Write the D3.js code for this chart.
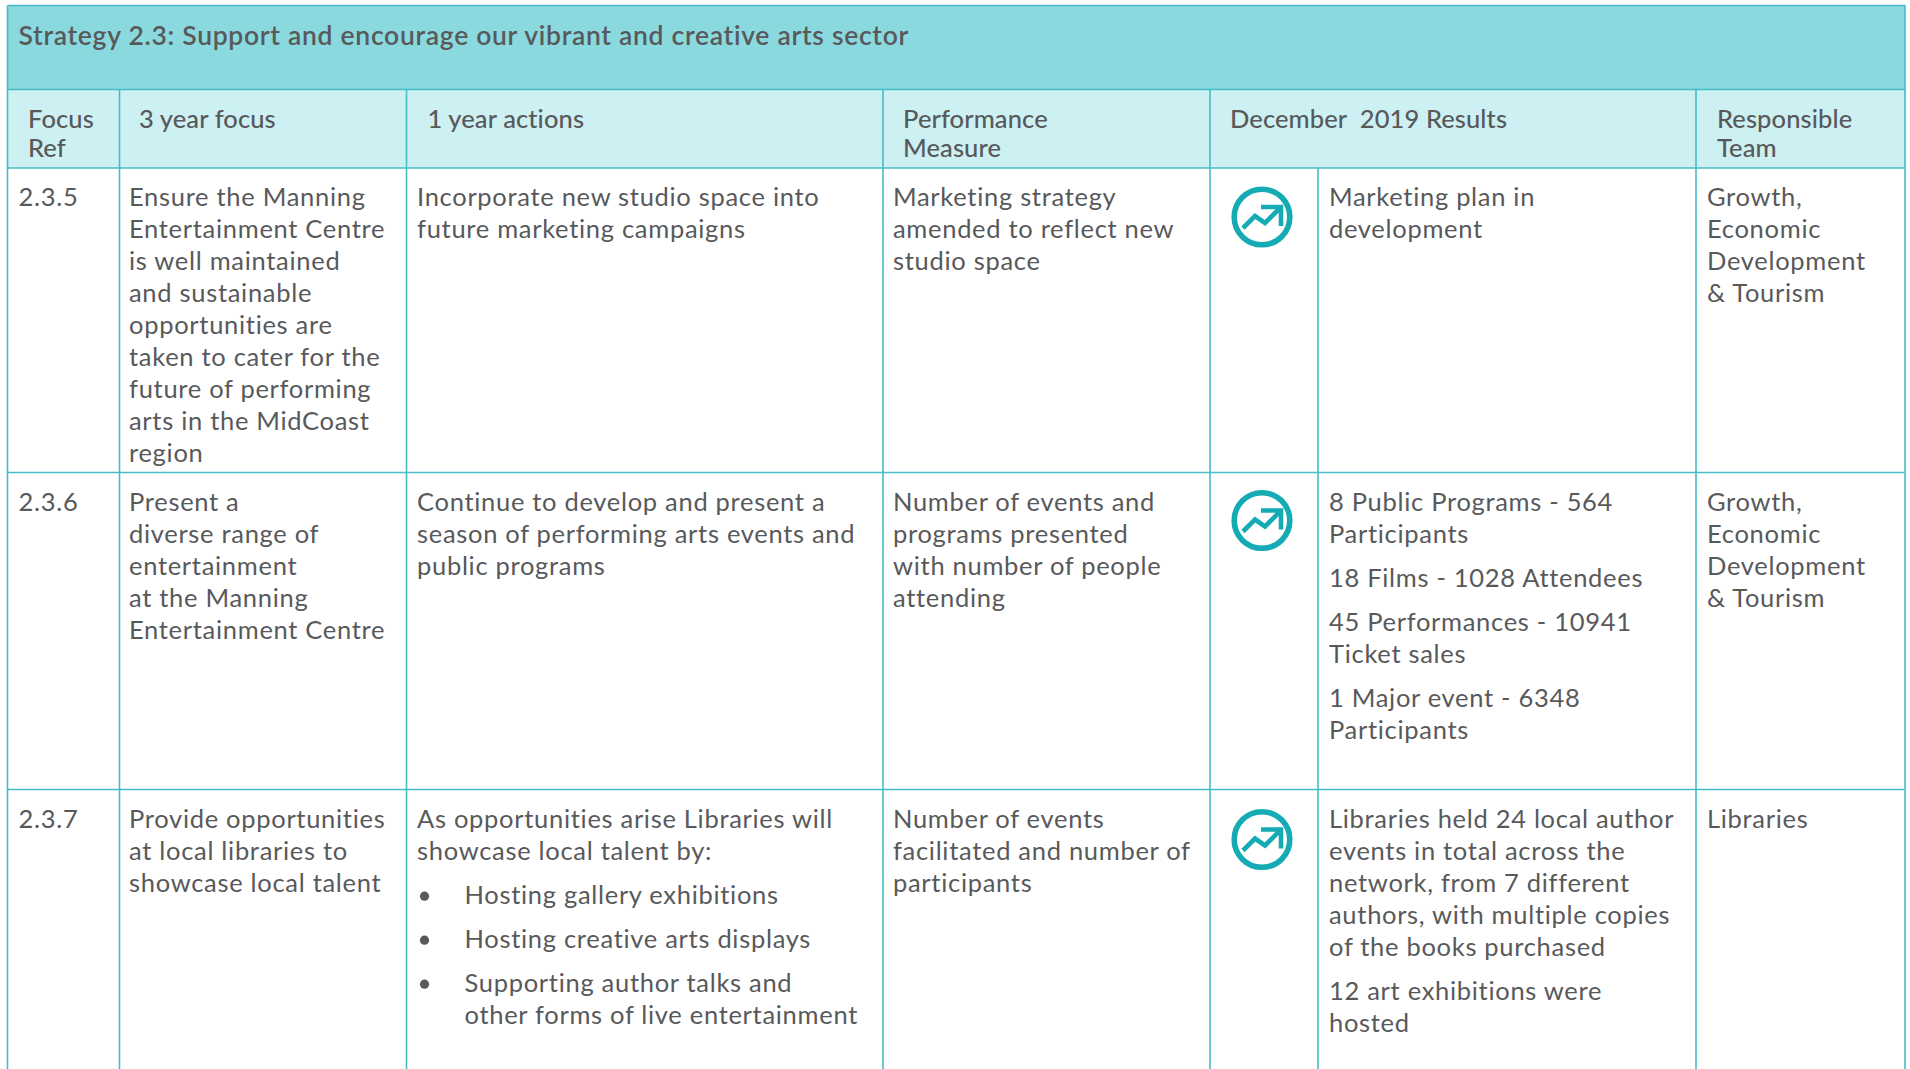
<!DOCTYPE html>
<html>
<head>
<meta charset="utf-8">
<script src="https://cdn.jsdelivr.net/npm/d3@7"></script>
<style>
  html, body { margin: 0; padding: 0; background: #fff; overflow: hidden; }
  text { font-family: Lato, sans-serif; fill: #58595b; }
  .body { font-size: 25.5px; letter-spacing: 0.7px; }
  .head { font-size: 25.5px; font-weight: 500; letter-spacing: 0.1px; }
  .title { font-size: 26.5px; font-weight: 600; letter-spacing: 0.7px; }
</style>
</head>
<body>
<svg id="chart" width="1910" height="1069"></svg>
<script>
var titleText = 'Strategy 2.3: Support and encourage our vibrant and creative arts sector';

var columns = ['ref', 'focus', 'actions', 'measure', 'icon', 'results', 'team'];

var headers = [
  { col: 'ref', lines: ['Focus', 'Ref'] },
  { col: 'focus', lines: ['3 year focus'] },
  { col: 'actions', lines: ['1 year actions'] },
  { col: 'measure', lines: ['Performance', 'Measure'] },
  { col: 'icon', lines: ['December  2019 Results'] },
  { col: 'team', lines: ['Responsible', 'Team'] }
];

var refs = ['2.3.5', '2.3.6', '2.3.7'];

var focus = [
  [['Ensure the Manning', 'Entertainment Centre', 'is well maintained', 'and sustainable', 'opportunities are', 'taken to cater for the', 'future of performing', 'arts in the MidCoast', 'region']],
  [['Present a', 'diverse range of', 'entertainment', 'at the Manning', 'Entertainment Centre']],
  [['Provide opportunities', 'at local libraries to', 'showcase local talent']]
];

var actions = [
  [['Incorporate new studio space into', 'future marketing campaigns']],
  [['Continue to develop and present a', 'season of performing arts events and', 'public programs']],
  [['As opportunities arise Libraries will', 'showcase local talent by:']]
];

var actionBullets = [
  [],
  [],
  [['Hosting gallery exhibitions'], ['Hosting creative arts displays'], ['Supporting author talks and', 'other forms of live entertainment']]
];

var measures = [
  [['Marketing strategy', 'amended to reflect new', 'studio space']],
  [['Number of events and', 'programs presented', 'with number of people', 'attending']],
  [['Number of events', 'facilitated and number of', 'participants']]
];

var results = [
  [['Marketing plan in', 'development']],
  [['8 Public Programs - 564', 'Participants'], ['18 Films - 1028 Attendees'], ['45 Performances - 10941', 'Ticket sales'], ['1 Major event - 6348', 'Participants']],
  [['Libraries held 24 local author', 'events in total across the', 'network, from 7 different', 'authors, with multiple copies', 'of the books purchased'], ['12 art exhibitions were', 'hosted']]
];

var teams = [
  [['Growth,', 'Economic', 'Development', '& Tourism']],
  [['Growth,', 'Economic', 'Development', '& Tourism']],
  [['Libraries']]
];

var lineColor = '#45bcc6';
var iconColor = '#14abb5';
var lineH = 32;
var paraGap = 12;

var svg = d3.select('#chart');

// column edges, one more than there are columns
var edge = d3.scaleOrdinal().domain(columns.concat('end'))
  .range([7.5, 119.5, 406.5, 883, 1210, 1318, 1696, 1905]);
// row edges: title, header, the three rows, off the page
var rowEdge = d3.scaleOrdinal().domain(['title', 'header', 0, 1, 2, 'end'])
  .range([5.5, 89.5, 168, 472.5, 789.5, 1075]);

var headX = d3.scaleOrdinal().domain(columns)
  .range([28, 139, 427.5, 903, 0, 0, 1717]);
var cellX = d3.scaleOrdinal().domain(columns)
  .range([18.5, 129, 417, 893, 0, 1329, 1707]);

/**
 * Backgrounds
 */
svg.append('rect')
  .attr('x', edge('ref')).attr('y', rowEdge('title'))
  .attr('width', edge('end') - edge('ref'))
  .attr('height', rowEdge('header') - rowEdge('title'))
  .attr('fill', '#8ad9df');

svg.append('rect')
  .attr('x', edge('ref')).attr('y', rowEdge('header'))
  .attr('width', edge('end') - edge('ref'))
  .attr('height', rowEdge(0) - rowEdge('header'))
  .attr('fill', '#cdf0f3');

/**
 * Grid lines
 */
var grid = svg.append('g')
  .attr('stroke', lineColor)
  .attr('stroke-width', 1.6);

['title', 'header', 0, 1, 2].forEach(function (r) {
  grid.append('line')
    .attr('x1', edge('ref')).attr('x2', edge('end'))
    .attr('y1', rowEdge(r)).attr('y2', rowEdge(r));
});

['ref', 'end'].forEach(function (c) {
  grid.append('line')
    .attr('x1', edge(c)).attr('x2', edge(c))
    .attr('y1', rowEdge('title')).attr('y2', rowEdge('end'));
});

['focus', 'actions', 'measure', 'icon', 'team'].forEach(function (c) {
  grid.append('line')
    .attr('x1', edge(c)).attr('x2', edge(c))
    .attr('y1', rowEdge('header')).attr('y2', rowEdge('end'));
});

grid.append('line')
  .attr('x1', edge('results')).attr('x2', edge('results'))
  .attr('y1', rowEdge(0)).attr('y2', rowEdge('end'));

/**
 * Title and header texts
 */
svg.append('text')
  .attr('class', 'title')
  .attr('x', 18.5)
  .attr('y', 45)
  .text(titleText);

headers.forEach(function (h) {
  var x = h.col === 'icon' ? 1230 : headX(h.col);
  svg.selectAll(null)
    .data(h.lines)
    .enter()
    .append('text')
    .attr('class', 'head')
    .style('white-space', 'pre')
    .attr('x', x)
    .attr('y', function (d, i) { return 128 + i * 29; })
    .text(function (d) { return d; });
});

/**
 * Writes paragraphs from baseline y, returns the next free baseline
 */
function drawParagraphs(x, y, paragraphs) {
  paragraphs.forEach(function (lines) {
    svg.append('g').selectAll('text')
      .data(lines)
      .enter()
      .append('text')
      .attr('class', 'body')
      .attr('x', x)
      .attr('y', function (d, i) { return y + i * lineH; })
      .text(function (d) { return d; });
    y += lines.length * lineH + paraGap;
  });
  return y;
}

refs.forEach(function (ref, r) {
  var y = rowEdge(r) + [37.5, 38.7, 38.7][r];

  drawParagraphs(cellX('ref'), y, [[ref]]);
  drawParagraphs(cellX('focus'), y, focus[r]);
  drawParagraphs(cellX('measure'), y, measures[r]);
  drawParagraphs(cellX('results'), y, results[r]);
  drawParagraphs(cellX('team'), y, teams[r]);

  var next = drawParagraphs(cellX('actions'), y, actions[r]);

  actionBullets[r].forEach(function (lines) {
    svg.append('circle')
      .attr('cx', 424.5)
      .attr('cy', next - 8)
      .attr('r', 4.6)
      .attr('fill', '#58595b');
    next = drawParagraphs(464.5, next, [lines]);
  });

  // trend icon
  var icon = svg.append('g')
    .attr('transform', 'translate(1262,' + (rowEdge(r) + [49, 48, 50][r]) + ')')
    .attr('fill', 'none')
    .attr('stroke', iconColor);

  icon.append('circle')
    .attr('r', 27.8)
    .attr('stroke-width', 5.6);

  icon.append('path')
    .attr('d', 'M-19,11L-7,-1L3,6L18,-9')
    .attr('stroke-width', 4.6);

  icon.append('path')
    .attr('d', 'M-1,-10L19,-10L19,9')
    .attr('stroke-width', 4.6);
});
</script>
</body>
</html>
